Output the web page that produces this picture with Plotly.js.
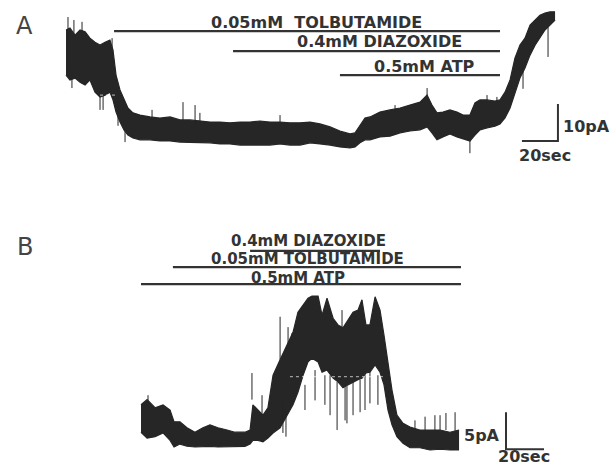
<!DOCTYPE html>
<html>
<head>
<meta charset="utf-8">
<script src="https://cdn.plot.ly/plotly-3.0.1.min.js"></script>
<style>
html,body{margin:0;padding:0;background:#fff;}
#chart{width:615px;height:467px;}
</style>
</head>
<body>
<div id="chart"></div>
<script>
// ---------- Panel A : time (s) and current envelope (pA) ----------
const timeA = [0,2.2,5.0,7.8,10.6,13.3,16.1,18.9,21.7,24.4,26.1,27.8,30.0,32.2,34.4,37.2,41.1,46.7,52.2,57.8,63.3,68.9,74.4,80.0,85.6,91.1,96.7,102.2,107.8,113.3,118.9,124.4,130.0,135.6,141.1,146.7,152.2,157.8,160.6,163.3,166.1,168.9,174.4,180.0,185.6,191.1,196.7,200.6,203.3,206.1,209.4,213.3,217.2,220.6,224.4,227.2,230.0,233.9,238.3,241.1,243.9,246.7,249.4,252.2,255.0,257.8,260.6,263.3,266.1,268.9,271.7];
const upperA = [31.9,32.4,30.5,31.9,31.4,29.7,28.6,27.8,28.6,29.2,26.5,19.7,15.7,13.0,10.8,9.5,8.9,8.4,8.1,8.4,7.6,7.6,7.3,7.0,7.0,6.8,7.0,7.0,7.3,7.0,7.0,6.8,6.8,7.0,6.5,5.7,4.6,3.8,4.1,6.2,8.1,8.4,9.7,10.3,10.8,11.6,12.4,14.3,11.6,9.5,9.7,10.3,9.7,8.9,8.9,12.2,13.0,13.0,12.7,13.0,15.1,18.4,24.3,27.8,29.7,33.2,34.6,35.9,36.5,36.8,36.8];
const lowerA = [19.7,18.4,18.9,17.8,17.0,18.4,15.1,13.8,14.3,15.1,13.0,9.7,7.0,4.9,3.5,2.7,2.2,2.2,1.9,1.9,1.6,1.6,1.4,1.4,1.1,1.1,0.8,0.8,0.8,0.8,1.1,0.8,0.8,1.4,1.1,0.8,0.3,0.0,0.3,1.4,2.2,2.2,3.0,3.2,4.1,4.6,4.9,5.7,4.1,2.2,3.0,3.8,3.0,2.4,1.9,3.5,4.9,5.4,5.9,6.5,8.1,10.8,15.1,18.9,21.6,25.1,27.8,30.0,31.9,33.2,34.6];
const spikeTimeA = [1.1,3.3,4.4,8.9,18.9,20.6,25.6,28.9,32.8,47.8,65.0,71.7,74.4,118.9,182.8,200.6,224.4,233.9,239.4,253.9,267.8];
const spikeLowA  = [29.2,16.2,29.2,29.2,10.3,10.3,23.8,6.0,1.6,7.5,6.2,6.2,6.5,6.5,9.5,13.0,-1.4,12.5,12.5,16.0,24.6];
const spikeHighA = [35.4,21.6,34.6,34.1,15.7,15.0,29.7,12.0,4.9,10.3,12.4,11.6,9.5,8.9,11.6,16.2,2.2,14.3,13.8,22.0,33.2];
const drugNamesA = ['0.05mM  TOLBUTAMIDE','0.4mM DIAZOXIDE','0.5mM ATP'];
const drugOnA  = [26.7,92.8,152.2];
const drugOffA = [241.1,241.1,241.1];

// ---------- Panel B ----------
const timeB = [0,3.2,7.4,11.6,15.3,17.4,20.5,24.2,28.4,32.6,36.3,40.5,45.3,49.5,54.7,57.4,58.9,61.6,64.2,66.8,69.5,73.2,76.8,80.0,82.6,85.3,87.9,90.0,93.2,95.3,97.9,101.1,103.7,106.3,108.9,111.6,114.2,116.3,118.4,120.5,123.2,125.8,127.9,130.0,132.1,134.7,137.9,141.6,146.8,152.1,157.4,162.6,167.4];
const upperB = [5.7,6.4,5.3,5.7,5.0,3.4,3.4,2.6,2.0,2.6,3.0,2.6,2.3,2.0,2.0,2.3,5.7,5.0,4.3,5.3,9.7,11.8,13.8,15.5,18.2,19.2,20.1,20.4,20.4,17.8,20.1,17.4,16.5,16.1,17.2,18.2,18.5,19.9,16.5,16.5,20.3,18.5,15.1,11.1,7.7,4.3,3.2,2.7,2.3,2.3,2.3,2.0,2.3];
const lowerB = [2.0,1.2,1.4,1.9,0.9,0.0,0.4,0.1,0.0,0.1,0.1,0.0,0.0,0.0,0.1,0.4,0.9,0.9,0.7,1.2,1.9,2.6,4.3,5.7,7.4,9.7,11.5,12.0,11.5,10.1,10.4,9.3,8.8,8.0,8.4,8.8,9.1,9.3,10.0,10.1,11.1,10.1,8.4,5.0,3.0,1.4,0.5,-0.1,-0.1,-0.4,-0.3,-0.4,-0.4];
const spikeTimeB = [3.7,58.4,63.7,73.2,74.7,76.3,77.4,79.5,86.3,91.6,96.8,99.5,103.2,105.8,107.4,108.4,111.6,115.3,117.9,120.5,124.7,144.2,149.5,154.7,157.4,160.5,165.3];
const spikeLowB  = [5.5,6.4,4.3,11.8,1.9,1.4,13.8,13.8,5.0,6.3,5.7,4.3,2.3,16.1,3.6,3.2,4.3,4.7,5.0,5.9,5.7,2.3,2.3,2.3,2.3,2.3,2.0];
const spikeHighB = [7.0,10.0,7.0,17.6,6.4,5.0,16.2,15.4,8.4,10.4,9.7,9.7,8.8,18.5,8.4,8.4,8.8,9.1,9.7,10.1,9.7,3.6,4.1,4.3,4.3,4.6,4.7];
const drugNamesB = ['0.4mM DIAZOXIDE','0.05mM TOLBUTAMIDE','0.5mM ATP'];
const drugOnB  = [57.4,16.8,0];
const drugOffB = [125.8,168.4,168.4];

// scale bars (data units)
const scaleA = {sec:20, pA:10};
const scaleB = {sec:20, pA:5};

// ---------- build ----------
const ink = '#262626';
function spikes(t, lo, hi){
  const xs=[], ys=[];
  for(let i=0;i<t.length;i++){ xs.push(t[i],t[i],null); ys.push(lo[i],hi[i],null); }
  return {xs, ys};
}
const sA = spikes(spikeTimeA, spikeLowA, spikeHighA);
const sB = spikes(spikeTimeB, spikeLowB, spikeHighB);

const traces = [
  {x:timeA, y:lowerA, xaxis:'x', yaxis:'y', mode:'lines', line:{color:ink,width:1.2}, hoverinfo:'skip'},
  {x:timeA, y:upperA, xaxis:'x', yaxis:'y', mode:'lines', fill:'tonexty', fillcolor:ink, line:{color:ink,width:1.2}, hoverinfo:'skip'},
  {x:sA.xs, y:sA.ys, xaxis:'x', yaxis:'y', mode:'lines', line:{color:ink,width:1}, connectgaps:false, hoverinfo:'skip'},
  {x:timeB, y:lowerB, xaxis:'x2', yaxis:'y2', mode:'lines', line:{color:ink,width:1.2}, hoverinfo:'skip'},
  {x:timeB, y:upperB, xaxis:'x2', yaxis:'y2', mode:'lines', fill:'tonexty', fillcolor:ink, line:{color:ink,width:1.2}, hoverinfo:'skip'},
  {x:sB.xs, y:sB.ys, xaxis:'x2', yaxis:'y2', mode:'lines', line:{color:ink,width:1}, connectgaps:false, hoverinfo:'skip'}
];

const shapes = [];
const annotations = [];
const lf = {family:'DejaVu Sans, Arial, sans-serif', size:16, color:'#333', weight:'bold'};
const lfB = {family:'DejaVu Sans, Arial, sans-serif', size:15, color:'#333', weight:'bold'};

// scan artifacts (faint white dashed lines across the traces)
shapes.push({type:'line', xref:'x', yref:'y', x0:18.9, x1:27.2, y0:14.3, y1:14.3, line:{color:'rgba(255,255,255,0.7)', width:1, dash:'dot'}});
shapes.push({type:'line', xref:'x2', yref:'y2', x0:78.4, x1:128.4, y0:9.5, y1:9.5, line:{color:'rgba(255,255,255,0.7)', width:1, dash:'dot'}});

// panel A drug bars
const levelsA = [31.6, 26.2, 19.7];
const labelPosA = [{t:139.4, y:34.0},{t:173.9, y:28.8},{t:199.4, y:22.1}];
drugNamesA.forEach((n,i)=>{
  shapes.push({type:'line', xref:'x', yref:'y', x0:drugOnA[i], x1:drugOffA[i], y0:levelsA[i], y1:levelsA[i], line:{color:'#333',width:2.2}});
  annotations.push({xref:'x', yref:'y', x:labelPosA[i].t, y:labelPosA[i].y, text:n, showarrow:false, font:lf, xanchor:'center', yanchor:'middle'});
});
// panel B drug bars
const levelsB = [26.5, 24.3, 22.0];
const labelPosB = [{t:87.9, y:27.9},{t:87.6, y:25.4},{t:82.6, y:22.9}];
drugNamesB.forEach((n,i)=>{
  shapes.push({type:'line', xref:'x2', yref:'y2', x0:drugOnB[i], x1:drugOffB[i], y0:levelsB[i], y1:levelsB[i], line:{color:'#333',width:2.2}});
  annotations.push({xref:'x2', yref:'y2', x:labelPosB[i].t, y:labelPosB[i].y, text:n, showarrow:false, font:lfB, borderpad:0, xanchor:'center', yanchor:'middle'});
});

// scale bars
const cA = {t:273.3, y:1.9};
shapes.push({type:'path', xref:'x', yref:'y', path:`M ${cA.t-scaleA.sec},${cA.y} L ${cA.t},${cA.y} L ${cA.t},${cA.y+scaleA.pA}`, line:{color:'#333',width:2}});
annotations.push({xref:'x', yref:'y', x:cA.t+1.5, y:5.9, text:scaleA.pA+'pA', showarrow:false, font:lf, xanchor:'left', yanchor:'middle'});
annotations.push({xref:'x', yref:'y', x:266.1, y:-1.9, text:scaleA.sec+'sec', showarrow:false, font:lf, xanchor:'center', yanchor:'middle'});

const cB = {t:192.1, y:-0.3};
shapes.push({type:'path', xref:'x2', yref:'y2', path:`M ${cB.t+scaleB.sec},${cB.y} L ${cB.t},${cB.y} L ${cB.t},${cB.y+scaleB.pA}`, line:{color:'#333',width:2}});
annotations.push({xref:'x2', yref:'y2', x:179.7, y:1.6, text:scaleB.pA+'pA', showarrow:false, font:lf, xanchor:'center', yanchor:'middle'});
annotations.push({xref:'x2', yref:'y2', x:201.8, y:-2.7, text:scaleB.sec+'sec', showarrow:false, font:lf, xanchor:'center', yanchor:'bottom', yshift:-1});

// panel letters
const letterFont = {family:'DejaVu Sans, Arial, sans-serif', size:24, color:'#444'};
annotations.push({xref:'paper', yref:'paper', x:24/615, y:1-26/467, text:'A', showarrow:false, font:letterFont, xanchor:'center', yanchor:'middle'});
annotations.push({xref:'paper', yref:'paper', x:25/615, y:1-247/467, text:'B', showarrow:false, font:letterFont, xanchor:'center', yanchor:'middle'});

const ax = {visible:false, showgrid:false, zeroline:false, fixedrange:true};
const layout = {
  width:615, height:467, autosize:false,
  margin:{l:0,r:0,t:0,b:0,pad:0},
  paper_bgcolor:'#fff', plot_bgcolor:'#fff',
  showlegend:false,
  xaxis: Object.assign({}, ax, {domain:[0,1], range:[-36.67,305.0], anchor:'y'}),
  yaxis: Object.assign({}, ax, {domain:[0.5,1], range:[-23.11,40.0], anchor:'x'}),
  xaxis2: Object.assign({}, ax, {domain:[0,1], range:[-74.21,249.47], anchor:'y2'}),
  yaxis2: Object.assign({}, ax, {domain:[0,0.5], range:[-2.70,28.85], anchor:'x2'}),
  shapes, annotations
};
Plotly.newPlot('chart', traces, layout, {staticPlot:true, displayModeBar:false});
</script>
</body>
</html>
